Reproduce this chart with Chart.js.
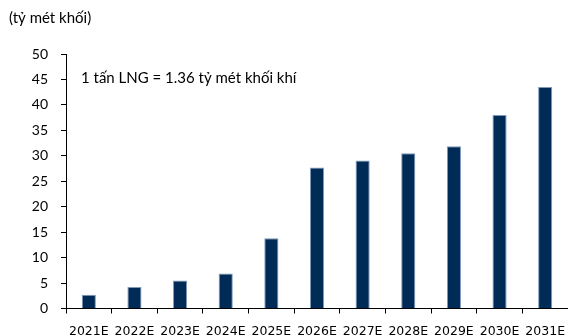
<!DOCTYPE html>
<html>
<head>
<meta charset="utf-8">
<script src="https://cdn.jsdelivr.net/npm/chart.js@4.4.1/dist/chart.umd.min.js"></script>
<style>
  html, body { margin: 0; padding: 0; background: #fff; }
  #wrap { width: 568px; height: 336px; position: relative; }
</style>
</head>
<body>
<div id="wrap"><canvas id="lngChart" width="568" height="336"></canvas></div>
<script>
// Các năm dự báo
const years = ['2021E', '2022E', '2023E', '2024E', '2025E', '2026E', '2027E', '2028E', '2029E', '2030E', '2031E'];
// Nhu cầu khí (tỷ mét khối)
const gasVolume = [2.7, 4.2, 5.5, 6.9, 13.8, 27.7, 29.1, 30.5, 31.9, 38.0, 43.5];
// Nhãn trục tung
const yTicks = [0, 5, 10, 15, 20, 25, 30, 35, 40, 45, 50];

const unitText = '(tỷ mét khối)';
const noteText = '1 tấn LNG = 1.36 tỷ mét khối khí';

// Vẽ đơn vị và ghi chú lên canvas
const textPlugin = {
    id: 'chartTexts',
    afterDraw(chart) {
        const ctx = chart.ctx;
        ctx.save();
        ctx.fillStyle = '#000';
        ctx.textBaseline = 'middle';
        ctx.textAlign = 'left';
        ctx.font = '15px Lato';
        ctx.fillText(unitText, 9, 18);
        ctx.fillText(noteText, 81, 78);
        ctx.restore();
    }
};

const ctx = document.getElementById('lngChart').getContext('2d');

const lngChart = new Chart(ctx, {
    type: 'bar',
    data: {
        labels: years,
        datasets: [{
            label: 'Nhu cầu khí',
            data: gasVolume,
            backgroundColor: '#002B57',
            borderColor: '#7f9abb',
            borderWidth: 1,
            categoryPercentage: 1,
            barPercentage: 0.31
        }]
    },
    options: {
        responsive: false,
        animation: false,
        layout: {
            padding: { top: 54, right: 0, left: 0, bottom: 0 }
        },
        plugins: {
            legend: { display: false },
            tooltip: { enabled: false }
        },
        scales: {
            x: {
                grid: { drawOnChartArea: false, drawTicks: true, tickLength: 5, color: '#000', offset: true },
                border: { display: true, color: '#000', width: 1 },
                ticks: {
                    color: '#000',
                    padding: 11,
                    maxRotation: 0,
                    autoSkip: false,
                    font: { family: 'DejaVu Sans', size: 12.5 }
                },
                afterFit(scale) {
                    scale.height = 27.5;
                    // trục hoành chạy sát mép phải
                    scale.paddingLeft = 0;
                    scale.paddingRight = 0;
                }
            },
            y: {
                min: 0,
                max: 50,
                afterBuildTicks(scale) {
                    scale.ticks = yTicks.map(v => ({ value: v }));
                },
                grid: { drawOnChartArea: false, drawTicks: true, tickLength: 5, color: '#000' },
                border: { display: true, color: '#000', width: 1 },
                ticks: {
                    color: '#000',
                    padding: 13,
                    font: { family: 'Lato', size: 14 }
                },
                afterFit(scale) { scale.width = 66; }
            }
        }
    },
    plugins: [textPlugin]
});
</script>
</body>
</html>
